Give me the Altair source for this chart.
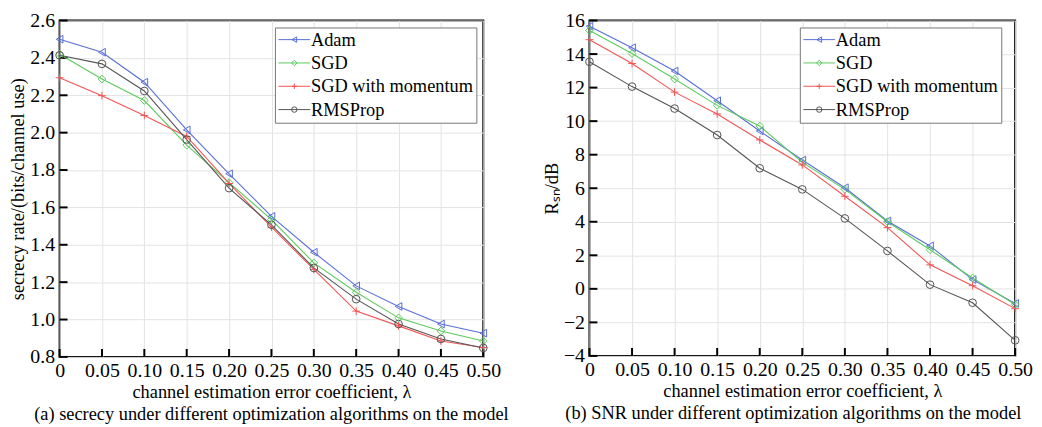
import altair as alt
import pandas as pd

# ---------------- data ----------------
lam = [0, 0.05, 0.10, 0.15, 0.20, 0.25, 0.30, 0.35, 0.40, 0.45, 0.50]
series = ["Adam", "SGD", "SGD with momentum", "RMSProp"]
colors = ["#5a6fd6", "#5ccb5c", "#f25555", "#555555"]

sec_adam = [2.50, 2.43, 2.27, 2.015, 1.78, 1.552, 1.36, 1.18, 1.07, 0.976, 0.927]
sec_sgd = [2.42, 2.287, 2.172, 1.933, 1.733, 1.535, 1.303, 1.146, 1.009, 0.939, 0.885]
sec_sgdm = [2.294, 2.198, 2.092, 1.98, 1.728, 1.494, 1.268, 1.045, 0.966, 0.885, 0.85]
sec_rms = [2.414, 2.368, 2.223, 1.963, 1.703, 1.507, 1.276, 1.109, 0.976, 0.896, 0.848]

snr_adam = [15.66, 14.38, 12.99, 11.22, 9.41, 7.68, 6.03, 4.05, 2.56, 0.55, -0.87]
snr_sgd = [15.41, 14.03, 12.51, 10.94, 9.71, 7.54, 5.93, 4.0, 2.33, 0.65, -0.93]
snr_sgdm = [14.86, 13.44, 11.73, 10.43, 8.88, 7.39, 5.52, 3.65, 1.43, 0.19, -1.18]
snr_rms = [13.54, 12.06, 10.75, 9.17, 7.19, 5.93, 4.2, 2.26, 0.25, -0.83, -3.07]

sec_ticks = [0.8, 1.0, 1.2, 1.4, 1.6, 1.8, 2.0, 2.2, 2.4, 2.6]
snr_ticks = [-4, -2, 0, 2, 4, 6, 8, 10, 12, 14, 16]

FONT = "Liberation Serif"
plot_shapes = ["triangle-left", "diamond", "M-1,0H1M0,-1V1", "circle"]
marker_keys = [s + " " for s in series]  # separate domain for the marker legend


def panel(vals, ydom, yticks, yfmt, ytitle, caption, W, H, lx, ly, cap_dx):
    rows = []
    for s, k, v in zip(series, marker_keys, vals):
        for x, y in zip(lam, v):
            rows.append({"lam": x, "val": y, "series": s, "mk": k, "kind": "data"})
    for t in lam:
        rows.append({"lam": t, "val": ydom[0], "series": "", "mk": "", "kind": "xtick"})
    for t in yticks:
        rows.append({"lam": 0, "val": t, "series": "", "mk": "", "kind": "ytick"})
    df = pd.DataFrame(rows)

    xs = alt.Scale(domain=[0, 0.5], nice=False, zero=False)
    ys = alt.Scale(domain=ydom, nice=False, zero=False)
    xaxis = alt.Axis(
        values=lam, grid=True, ticks=False, domain=False, labelOverlap=False, labelFlush=False,
        labelExpr="datum.value == 0 ? '0' : format(datum.value, '.2f')",
        title="channel estimation error coefficient, λ",
        labelPadding=4, titlePadding=2,
    )
    yaxis = alt.Axis(
        values=yticks, grid=True, ticks=False, domain=False, format=yfmt, labelOverlap=False,
        labelFlush=False, title=ytitle, labelPadding=5, titlePadding=2,
    )
    X = alt.X("lam:Q", scale=xs, axis=xaxis)
    Y = alt.Y("val:Q", scale=ys, axis=yaxis)

    base = alt.Chart(df)
    dat = base.transform_filter(alt.datum.kind == "data")

    # inward ticks on bottom and left axes (short stroked paths placed through the scales)
    xtick = base.transform_filter(alt.datum.kind == "xtick").mark_point(
        shape="M0,0V-1", size=256, filled=False, color="black", strokeWidth=2, opacity=1
    ).encode(x=X, y=Y)
    ytick = base.transform_filter(alt.datum.kind == "ytick").mark_point(
        shape="M0,0H1", size=256, filled=False, color="black", strokeWidth=2, opacity=1
    ).encode(x=X, y=Y)

    common = dict(
        title=None, orient="none", legendX=lx, legendY=ly, labelFont=FONT, labelFontSize=18.5,
        padding=3, rowPadding=4.5, labelLimit=400, symbolSize=30, symbolStrokeWidth=1,
        symbolOffset=7.3, labelOffset=7.5,
    )
    # legend A: line symbols, with frame and labels
    legA = alt.Legend(
        symbolType="M-5.84,0H5.84",
        labelColor="black", strokeColor="#777777", fillColor="white", **common,
    )
    # legend B: markers drawn on top of legend A's lines (no visible labels)
    legB = alt.Legend(labelExpr="'\u00a0'", labelColor="black", **common)

    lines = dat.mark_line(strokeWidth=1.1).encode(
        x=X, y=Y,
        color=alt.Color("series:N", scale=alt.Scale(domain=series, range=colors), legend=legA),
    )
    points = dat.mark_point(filled=False, size=60, strokeWidth=1, opacity=1).encode(
        x=X, y=Y,
        stroke=alt.Stroke("mk:N", scale=alt.Scale(domain=marker_keys, range=colors), legend=legB),
        shape=alt.Shape("mk:N", scale=alt.Scale(domain=marker_keys, range=plot_shapes), legend=legB),
    )

    return alt.layer(xtick, ytick, lines, points).properties(
        width=W, height=H,
        title=alt.TitleParams(
            caption, orient="bottom", font=FONT, fontSize=18.5, fontWeight="normal",
            color="black", offset=4, dx=cap_dx,
        ),
    )


left = panel(
    [sec_adam, sec_sgd, sec_sgdm, sec_rms], [0.8, 2.6], sec_ticks, ".1f",
    "secrecy rate/(bits/channel use)",
    "(a) secrecy under different optimization algorithms on the model",
    427, 339, 217, 7, 0,
)
right = panel(
    [snr_adam, snr_sgd, snr_sgdm, snr_rms], [-4, 16], snr_ticks, "d",
    "Rₛₙ/dB",
    "(b) SNR under different optimization algorithms on the model",
    429, 338, 212, 7, -9,
)

chart = (
    alt.hconcat(left, right, spacing=107, bounds="flush")
    .resolve_scale(color="independent", stroke="independent", shape="independent",
                   x="independent", y="independent")
    .resolve_legend(color="independent", stroke="independent", shape="independent")
    .properties(padding={"left": 0, "top": 0, "right": 0, "bottom": 0})
    .configure_view(stroke="black", strokeWidth=2)
    .configure_axis(
        labelFont=FONT, labelFontSize=20, labelColor="black",
        titleFont=FONT, titleFontSize=18.5, titleFontWeight="normal", titleColor="black",
        gridColor="#e3e3e3", gridWidth=1,
    )
)

chart.save("out.html", embed_options={"renderer": "svg", "actions": False})
